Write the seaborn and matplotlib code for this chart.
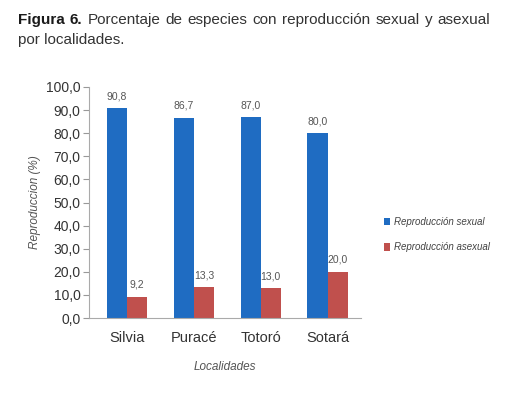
import matplotlib
matplotlib.use("Agg")
import matplotlib.pyplot as plt
import seaborn as sns
import pandas as pd
from matplotlib.patches import Patch

localidades = ["Silvia", "Puracé", "Totoró", "Sotará"]
sexual = [90.8, 86.7, 87.0, 80.0]
asexual = [9.2, 13.3, 13.0, 20.0]
series_names = ["Reproducción sexual", "Reproducción asexual"]
yticks = [0, 10, 20, 30, 40, 50, 60, 70, 80, 90, 100]

sns.set_theme(style="white")
FONT = ["Liberation Sans", "DejaVu Sans"]
plt.rcParams["font.family"] = FONT

df = pd.DataFrame({
    "Localidad": localidades * 2,
    "Valor": sexual + asexual,
    "Serie": [series_names[0]] * 4 + [series_names[1]] * 4,
})

colors = ["#1f6cc2", "#c0504d"]

fig = plt.figure(figsize=(5.06, 3.95), dpi=100)
ax = fig.add_axes([89 / 506, 1 - 318 / 395, (361 - 89) / 506, (318 - 87) / 395])

sns.barplot(data=df, x="Localidad", y="Valor", hue="Serie", order=localidades,
            hue_order=series_names, palette=colors, width=0.6, gap=0,
            saturation=1, ax=ax, legend=False, edgecolor="none")

ax.set_xlim(-0.567, 3.5)
ax.set_ylim(0, 100)
ax.set_yticks(yticks)
ax.set_yticklabels([f"{v:.1f}".replace(".", ",") for v in yticks], fontsize=10, color="#333333")
ax.tick_params(axis="y", length=4, width=0.8, color="#999999", left=True, pad=2)
ax.tick_params(axis="x", length=0, pad=9, labelsize=10.5, labelcolor="#333333")
for s in ["top", "right"]:
    ax.spines[s].set_visible(False)
for s in ["left", "bottom"]:
    ax.spines[s].set_color("#aaaaaa")
    ax.spines[s].set_linewidth(0.8)

for cont in ax.containers:
    ax.bar_label(cont, labels=[f"{v:.1f}".replace(".", ",") for v in cont.datavalues],
                 padding=5, fontsize=7.5, color="#555555")

ax.set_xlabel("Localidades", fontsize=8.5, style="italic", color="#555555")
ax.xaxis.set_label_coords(0.5, -(361 - 318) / 231)
ax.set_ylabel("Reproduccion (%)", fontsize=8.5, style="italic", color="#555555")
ax.yaxis.set_label_coords(-(89 - 41) / 272, 0.5)

handles = [Patch(facecolor=c, edgecolor="none") for c in colors]
fig.legend(handles, series_names, loc="upper left", bbox_to_anchor=(375 / 506, 1 - 208 / 395),
           frameon=False, handlelength=0.6, handleheight=0.8, handletextpad=0.5,
           labelspacing=1.6, prop={"family": FONT, "style": "italic", "size": 7}, labelcolor="#444444")

# Title, justified first line
fig.canvas.draw()
r = fig.canvas.get_renderer()
left, right = 18, 490
y1 = 1 - 20 / 395
y2 = 1 - 40 / 395
words = [("Figura", "bold"), ("6.", "bold"), ("Porcentaje", "normal"), ("de", "normal"),
         ("especies", "normal"), ("con", "normal"), ("reproducción", "normal"),
         ("sexual", "normal"), ("y", "normal"), ("asexual", "normal")]
texts = []
total = 0
for w, wt in words:
    t = fig.text(0, y1, w, fontsize=11, fontweight=wt, color="#1a1a1a" if wt == "bold" else "#333333",
                 va="center", ha="left")
    bb = t.get_window_extent(renderer=r)
    texts.append((t, bb.width))
    total += bb.width
gap = (right - left - total) / (len(words) - 1)
x = left
for t, w in texts:
    t.set_x(x / 506)
    x += w + gap
fig.text(left / 506, y2, "por localidades.", fontsize=11, color="#333333", va="center", ha="left")

fig.savefig("out.png", dpi=100)
